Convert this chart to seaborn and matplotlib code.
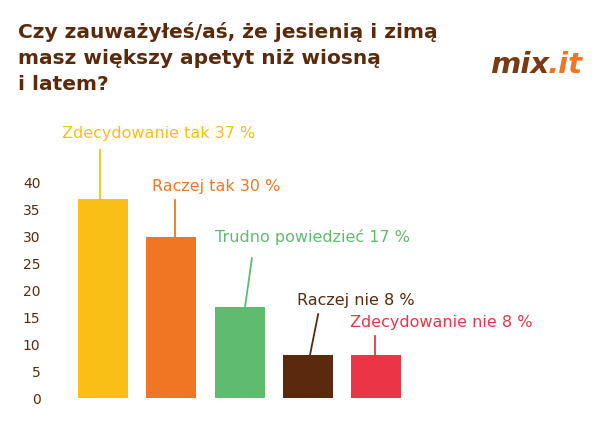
import matplotlib
matplotlib.use("Agg")
import matplotlib.pyplot as plt
import seaborn as sns
import pandas as pd

# data
answers = ['Zdecydowanie tak', 'Raczej tak', 'Trudno powiedzieć', 'Raczej nie', 'Zdecydowanie nie']
percent = [37, 30, 17, 8, 8]
colors = ['#f9bf14', '#f07624', '#5fbc6f', '#5b2a0d', '#ec3447']
yticks = [0, 5, 10, 15, 20, 25, 30, 35, 40]

df = pd.DataFrame({'answer': answers, 'percent': percent})

fig = plt.figure(figsize=(6, 4.28), dpi=100)
ax = fig.add_axes([60/600, 1-398/428, 530/600, 298/428])
sns.barplot(data=df, x='answer', y='percent', hue='answer', palette=colors,
            width=0.73, saturation=1, legend=False, ax=ax)
ax.set_xlim(-0.63, 7.13)
ax.set_ylim(0, 298/5.375)
ax.set_yticks(yticks)
ax.tick_params(axis='y', length=0, labelsize=10, labelcolor='#5b2a0d', pad=14)
ax.set_xticks([])
ax.set_xlabel('')
ax.set_ylabel('')
for s in ax.spines.values():
    s.set_visible(False)

# annotation labels with leader lines
label_pos = [(-0.6, 49.3), (0.72, 39.4), (1.64, 30.0), (2.84, 18.2), (3.62, 14.1)]
lines = [((-0.04, 37), (-0.04, 46.1)), ((1.05, 30), (1.05, 36.8)),
         ((2.08, 17), (2.18, 26.0)), ((3.03, 8), (3.15, 15.6)),
         ((3.98, 8), (3.98, 11.5))]
for i, (a, p) in enumerate(zip(answers, percent)):
    (x0, y0), (x1, y1) = lines[i]
    ax.plot([x0, x1], [y0, y1], color=colors[i], lw=1.3, clip_on=False)
    ax.text(label_pos[i][0], label_pos[i][1], f'{a} {p} %', color=colors[i],
            fontsize=11.5, fontfamily='DejaVu Sans Condensed', va='center', ha='left')

fig.text(18/600, 1-22/428, 'Czy zauważyłeś/aś, że jesienią i zimą\nmasz większy apetyt niż wiosną\ni latem?',
         fontsize=14.5, fontweight='bold', color='#5b2a0d', va='top', ha='left',
         linespacing=1.45)
fig.text(490/600, 1-65/428, 'mix', fontsize=21, fontstyle='italic', fontweight='bold',
         color='#7a3a12', va='center', ha='left')
fig.text(548/600, 1-65/428, '.it', fontsize=21, fontstyle='italic', fontweight='bold',
         color='#f07624', va='center', ha='left')

fig.savefig('out.png', dpi=100)
